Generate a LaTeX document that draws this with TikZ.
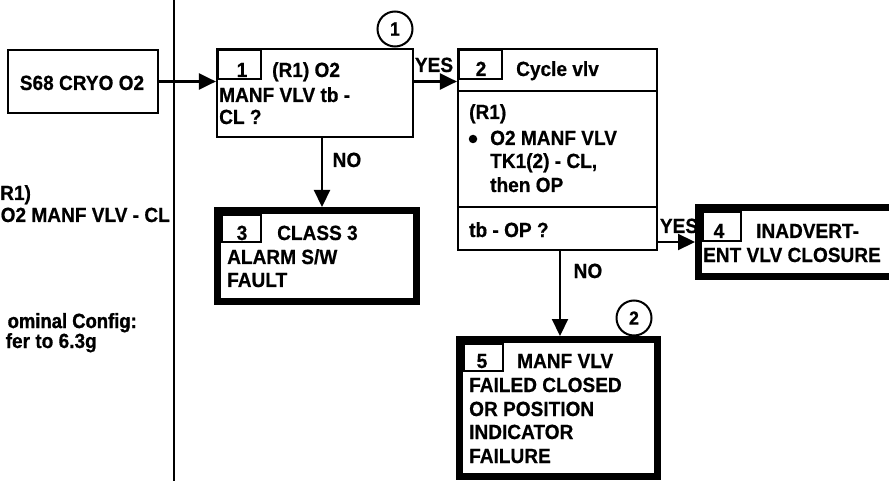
\documentclass[tikz,border=0pt]{standalone}
\usepackage{fontspec}
\setmainfont{Liberation Sans}[FakeStretch=0.93, BoldFeatures={FakeBold=0.6}]
\newfontfamily\heavyfont{Liberation Sans Bold}[FakeStretch=0.9, FakeBold=1.4]
\usetikzlibrary{arrows.meta}
\begin{document}
\begin{tikzpicture}[x=1pt,y=-1pt,
  txt/.style={font=\fontsize{20.5}{23}\selectfont\bfseries, inner sep=0pt, anchor=base west},
  txte/.style={font=\fontsize{20.5}{23}\selectfont\bfseries, inner sep=0pt, anchor=base east},
  heavy/.style={font=\fontsize{20.5}{23}\selectfont\heavyfont, inner sep=0pt, anchor=base east},
  num/.style={font=\fontsize{20.5}{23}\selectfont\bfseries, inner sep=0pt, anchor=base},
  thinbox/.style={draw, line width=2.2pt, inner sep=0pt, rectangle},
  thickbox/.style={draw, line width=7pt, inner sep=0pt, rectangle},
  tabbox/.style={draw, line width=1.8pt, inner sep=0pt, rectangle, anchor=north west},
  refcirc/.style={draw, circle, line width=2pt, minimum size=35pt, inner sep=0pt, font=\fontsize{19}{19}\selectfont\bfseries},
  arr/.style={line width=2.2pt, -{Triangle[length=17pt,width=16pt]}},
  bul/.style={circle, fill=black, minimum size=8.5pt, inner sep=0pt}
]
\useasboundingbox (0,0) rectangle (889,481);

% divider line
\coordinate (vtop) at (174,0);
\coordinate (vbot) at (174,481);
\draw[line width=2.2pt] (vtop) -- (vbot);

% left panel
\node[thinbox, minimum width=150pt, minimum height=63pt] (s68) at (83,81.5) {};
\node[num] (s68t) at (82,90) {S68 CRYO O2};
\node[txt] (l1) at (0,200) {R1)};
\node[txt] (l2) at (0.5,222) {O2 MANF VLV - CL};
\node[heavy] (l3) at (137,328) {ominal Config:};
\node[txte] (l4) at (97,348) {fer to 6.3g};

% box 1
\node[thinbox, minimum width=196pt, minimum height=88pt] (box1) at (315,93) {};
\node[tabbox, minimum width=43pt, minimum height=29pt] (tab1) at (217,49) {};
\node[num] (n1) at (242,77) {1};
\node[txt] (b1a) at (272,77) {(R1) O2};
\node[txt] (b1b) at (219,102) {MANF VLV tb -};
\node[txt] (b1c) at (219,124) {CL ?};
\node[refcirc] (c1) at (395,29) {1};

% box 2
\node[thinbox, minimum width=199pt, minimum height=201pt] (box2) at (557.5,149.5) {};
\node[tabbox, minimum width=43pt, minimum height=29pt] (tab2) at (458,49) {};
\coordinate (d1) at (0,91);
\coordinate (d2) at (0,207);
\draw[line width=2.2pt] (box2.west |- d1) -- (box2.east |- d1);
\draw[line width=2.2pt] (box2.west |- d2) -- (box2.east |- d2);
\node[num] (n2) at (481,76) {2};
\node[txt] (b2a) at (516,76) {Cycle vlv};
\node[txt] (b2b) at (469,119) {(R1)};
\node[bul] (b2bul) at (473,139) {};
\node[txt] (b2c) at (490,145) {O2 MANF VLV};
\node[txt] (b2d) at (490,168) {TK1(2) - CL,};
\node[txt] (b2e) at (490,192) {then OP};
\node[txt] (b2f) at (469,237) {tb - OP ?};

% box 3
\node[thickbox, minimum width=199pt, minimum height=91pt] (box3) at (317,256) {};
\node[tabbox, minimum width=39pt, minimum height=27pt] (tab3) at (221,214) {};
\node[num] (n3) at (242,240) {3};
\node[txt] (b3a) at (277,240) {CLASS 3};
\node[txt] (b3b) at (227,264) {ALARM S/W};
\node[txt] (b3c) at (227,287) {FAULT};

% box 4
\node[thickbox, minimum width=252pt, minimum height=69pt] (box4) at (824.5,242) {};
\node[tabbox, minimum width=38pt, minimum height=29pt] (tab4) at (702,211) {};
\node[num] (n4) at (719,238) {4};
\node[txt] (b4a) at (756,238) {INADVERT-};
\node[txt] (b4b) at (703,262) {ENT VLV CLOSURE};

% box 5
\node[thickbox, minimum width=198pt, minimum height=137pt] (box5) at (558.5,408) {};
\node[tabbox, minimum width=39pt, minimum height=27pt] (tab5) at (463,343) {};
\node[num] (n5) at (482,368) {5};
\node[txt] (b5a) at (517,368) {MANF VLV};
\node[txt] (b5b) at (469,392) {FAILED CLOSED};
\node[txt] (b5c) at (469,416) {OR POSITION};
\node[txt] (b5d) at (469,439) {INDICATOR};
\node[txt] (b5e) at (469,463) {FAILURE};
\node[refcirc] (c2) at (634,318) {2};

% connectors
\draw[arr] (s68.east) -- (s68.east -| box1.west);
\draw[arr] (box1.east |- s68.east) -- (box2.west |- s68.east);
\draw[arr] ([xshift=7pt]box1.south) -- ([xshift=7pt]box1.south |- box3.north);
\draw[arr] (box2.east |- box4.west) -- (box4.west);
\draw[arr] ([xshift=2.5pt]box2.south) -- ([xshift=2.5pt]box2.south |- box5.north);

% labels
\node[num] (yes1) at (434,72) {YES};
\node[num] (no1) at (347,167) {NO};
\node[num] (yes2) at (679,233) {YES};
\node[num] (no2) at (588,278) {NO};
\end{tikzpicture}
\end{document}
